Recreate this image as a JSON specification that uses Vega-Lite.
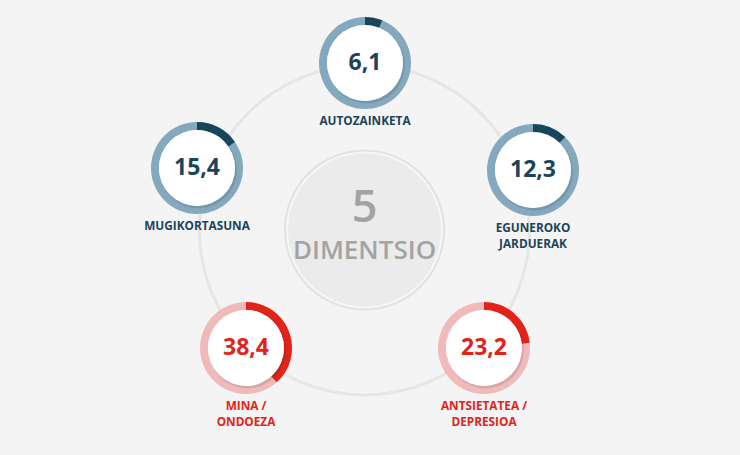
{
  "$schema": "https://vega.github.io/schema/vega-lite/v6.json",
  "width": 740,
  "height": 455,
  "padding": 0,
  "autosize": {"type": "none"},
  "background": "#f4f4f4",
  "config": {"view": {"stroke": null}},
  "datasets": {
    "dims": [
      {"line1": "AUTOZAINKETA", "line2": "", "value": 6.1, "valueLabel": "6,1", "cx": 365, "cy": 63, "group": "blue"},
      {"line1": "MUGIKORTASUNA", "line2": "", "value": 15.4, "valueLabel": "15,4", "cx": 197, "cy": 168, "group": "blue"},
      {"line1": "EGUNEROKO", "line2": "JARDUERAK", "value": 12.3, "valueLabel": "12,3", "cx": 533, "cy": 170, "group": "blue"},
      {"line1": "MINA /", "line2": "ONDOEZA", "value": 38.4, "valueLabel": "38,4", "cx": 246, "cy": 348, "group": "red"},
      {"line1": "ANTSIETATEA /", "line2": "DEPRESIOA", "value": 23.2, "valueLabel": "23,2", "cx": 484, "cy": 348, "group": "red"}
    ],
    "center": [
      {"cx": 364.5, "cy": 230, "count": "5", "word": "DIMENTSIO"}
    ]
  },
  "encoding": {
    "x": {"field": "cx", "type": "quantitative", "scale": {"domain": [0, 740], "range": [0, 740], "nice": false, "zero": false}, "axis": null},
    "y": {"field": "cy", "type": "quantitative", "scale": {"domain": [0, 455], "range": [0, 455], "nice": false, "zero": false}, "axis": null}
  },
  "layer": [
    {
      "data": {"name": "center"},
      "mark": {"type": "arc", "radius": 166.5, "radius2": 163.5, "theta": 0, "theta2": 6.2832, "fill": "#e6e6e6"}
    },
    {
      "data": {"name": "center"},
      "mark": {"type": "arc", "radius": 80.5, "radius2": 0, "theta": 0, "theta2": 6.2832, "fill": "#e2e2e2"}
    },
    {
      "data": {"name": "center"},
      "mark": {"type": "arc", "radius": 78.5, "radius2": 0, "theta": 0, "theta2": 6.2832, "fill": "#f7f7f7"}
    },
    {
      "data": {"name": "center"},
      "mark": {"type": "arc", "radius": 76.5, "radius2": 0, "theta": 0, "theta2": 6.2832, "fill": "#ebebeb"}
    },
    {
      "data": {"name": "center"},
      "mark": {"type": "text", "fontSize": 45, "font": "Open Sans", "fontWeight": 600, "dy": -22, "baseline": "middle", "align": "center", "fill": "#a3a3a3"},
      "encoding": {"text": {"field": "count"}}
    },
    {
      "data": {"name": "center"},
      "mark": {"type": "text", "fontSize": 26, "font": "Open Sans", "fontWeight": 600, "dy": 21, "baseline": "middle", "align": "center", "fill": "#a3a3a3"},
      "encoding": {"text": {"field": "word"}}
    },
    {
      "data": {"name": "dims"},
      "mark": {"type": "arc", "radius": 46, "radius2": 38, "theta": 0, "theta2": 6.2832},
      "encoding": {
        "color": {"field": "group", "type": "nominal", "scale": {"domain": ["blue", "red"], "range": ["#84a9be", "#f0baba"]}, "legend": null}
      }
    },
    {
      "data": {"name": "dims"},
      "mark": {"type": "arc", "radius": 46, "radius2": 38},
      "encoding": {
        "theta": {"field": "value", "type": "quantitative", "stack": null, "scale": {"domain": [0, 100], "range": [0, 6.2832]}},
        "theta2": {"datum": 0},
        "color": {"field": "group", "type": "nominal", "scale": {"domain": ["blue", "red"], "range": ["#174559", "#e2231a"]}, "legend": null}
      }
    },
    {
      "data": {"name": "dims"},
      "mark": {"type": "arc", "radius": 38.5, "radius2": 0, "theta": 0, "theta2": 6.2832, "fill": "#000000", "opacity": 0.1, "xOffset": 1.5, "yOffset": 2}
    },
    {
      "data": {"name": "dims"},
      "mark": {"type": "arc", "radius": 38, "radius2": 0, "theta": 0, "theta2": 6.2832, "fill": "#ffffff"}
    },
    {
      "data": {"name": "dims"},
      "mark": {"type": "text", "fontSize": 23, "font": "Open Sans", "fontWeight": 700, "baseline": "middle", "align": "center", "dy": 0},
      "encoding": {
        "text": {"field": "valueLabel"},
        "color": {"field": "group", "type": "nominal", "scale": {"domain": ["blue", "red"], "range": ["#1b4459", "#e2231a"]}, "legend": null}
      }
    },
    {
      "data": {"name": "dims"},
      "mark": {"type": "text", "fontSize": 11.8, "font": "Open Sans", "fontWeight": 700, "baseline": "middle", "align": "center", "dy": 58},
      "encoding": {
        "text": {"field": "line1"},
        "color": {"field": "group", "type": "nominal", "scale": {"domain": ["blue", "red"], "range": ["#1b4459", "#e2231a"]}, "legend": null}
      }
    },
    {
      "data": {"name": "dims"},
      "mark": {"type": "text", "fontSize": 11.8, "font": "Open Sans", "fontWeight": 700, "baseline": "middle", "align": "center", "dy": 74},
      "encoding": {
        "text": {"field": "line2"},
        "color": {"field": "group", "type": "nominal", "scale": {"domain": ["blue", "red"], "range": ["#1b4459", "#e2231a"]}, "legend": null}
      }
    }
  ],
  "resolve": {"scale": {"color": "independent"}}
}
